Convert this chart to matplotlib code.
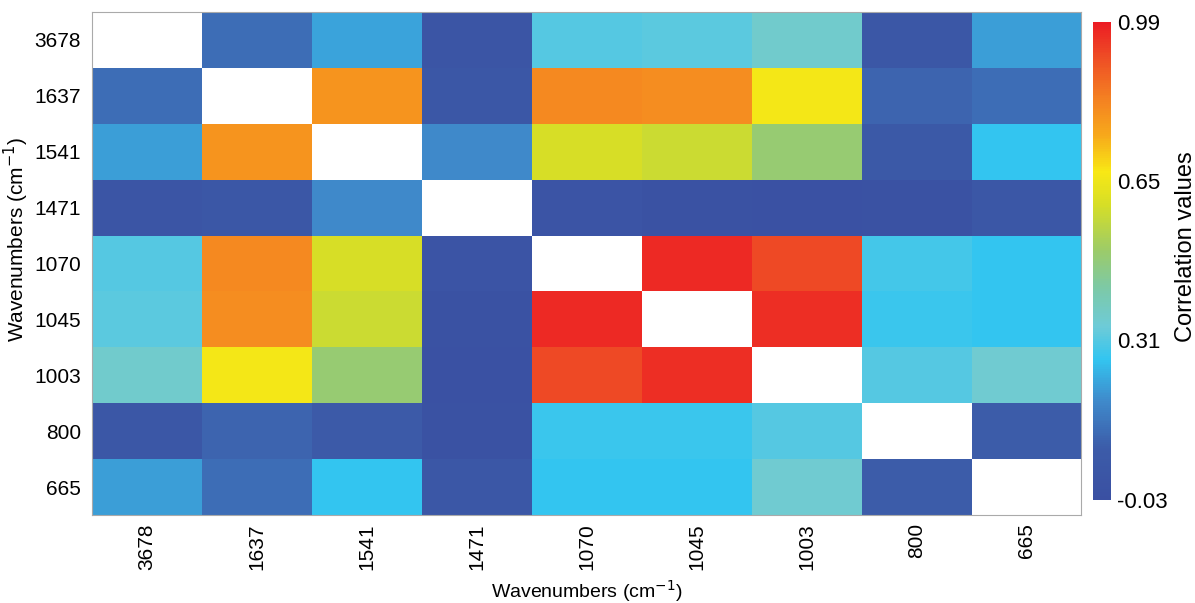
import numpy as np
import matplotlib.pyplot as plt
from matplotlib.colors import LinearSegmentedColormap

plt.rcParams['font.family'] = ['Liberation Sans', 'DejaVu Sans']

wavenumbers = ['3678', '1637', '1541', '1471', '1070', '1045', '1003', '800', '665']

# correlation matrix, rows/cols in the order above (diagonal left blank)
corr = [
    [np.nan, 0.12, 0.22, 0.02, 0.31, 0.32, 0.36, 0.03, 0.21],
    [0.12, np.nan, 0.79, 0.03, 0.81, 0.80, 0.66, 0.10, 0.12],
    [0.21, 0.79, np.nan, 0.18, 0.60, 0.58, 0.49, 0.05, 0.27],
    [0.02, 0.04, 0.18, np.nan, 0.01, -0.01, -0.02, -0.01, 0.03],
    [0.31, 0.81, 0.60, 0.01, np.nan, 0.97, 0.92, 0.29, 0.27],
    [0.32, 0.80, 0.58, -0.01, 0.97, np.nan, 0.96, 0.28, 0.27],
    [0.36, 0.66, 0.49, -0.02, 0.92, 0.96, np.nan, 0.31, 0.35],
    [0.03, 0.10, 0.06, -0.01, 0.28, 0.28, 0.31, np.nan, 0.08],
    [0.21, 0.12, 0.27, 0.03, 0.27, 0.27, 0.35, 0.08, np.nan],
]
vmin, vmax = -0.03, 0.99
cbar_ticks = [-0.03, 0.31, 0.65, 0.99]

# colour stops given in data units, rescaled to 0..1
stops = [
    (-0.03, '#3A50A2'), (0.08, '#3C5CA9'), (0.18, '#3F8ACB'),
    (0.27, '#33C5F0'), (0.34, '#6ECBD7'), (0.42, '#7CC9A8'),
    (0.50, '#9BCB6A'), (0.60, '#D6DE26'), (0.67, '#F8E815'),
    (0.75, '#F7A81B'), (0.83, '#F47F22'), (0.92, '#EE4A25'),
    (0.99, '#EC1C24'),
]
cmap = LinearSegmentedColormap.from_list(
    'corr', [((v - vmin) / (vmax - vmin), c) for v, c in stops])
cmap.set_bad('white')

fig = plt.figure(figsize=(11.95, 6.03), dpi=100)
ax = fig.add_axes([0.077, 0.146, 0.828, 0.834])
data = np.ma.masked_invalid(np.array(corr))
im = ax.pcolormesh(data, cmap=cmap, vmin=vmin, vmax=vmax)
ax.set_xlim(0, len(wavenumbers))
ax.set_ylim(len(wavenumbers), 0)

pos = np.arange(len(wavenumbers)) + 0.5
ax.set_xticks(pos)
ax.set_xticklabels(wavenumbers, rotation=90, fontsize=15)
ax.set_yticks(pos)
ax.set_yticklabels(wavenumbers, fontsize=15)
ax.tick_params(length=0)
ax.tick_params(axis='x', pad=6)
ax.tick_params(axis='y', pad=8)
for s in ax.spines.values():
    s.set_color('#AAAAAA')
    s.set_linewidth(0.8)

ax.set_xlabel('Wavenumbers (cm$^{-1}$)', fontsize=14, labelpad=6)
ax.set_ylabel('Wavenumbers (cm$^{-1}$)', fontsize=15)
ax.yaxis.set_label_coords(-0.062, 0.547)

cax = fig.add_axes([0.915, 0.171, 0.015, 0.793])
cb = fig.colorbar(im, cax=cax, ticks=cbar_ticks)
cb.outline.set_visible(False)
cb.ax.tick_params(length=0, labelsize=16, pad=4)
cb.ax.set_yticklabels(['%.2f' % t for t in cbar_ticks])
cb.set_label('Correlation values', fontsize=17)
cb.ax.yaxis.set_label_coords(4.55, 0.53)

fig.savefig('out.png', dpi=100)
